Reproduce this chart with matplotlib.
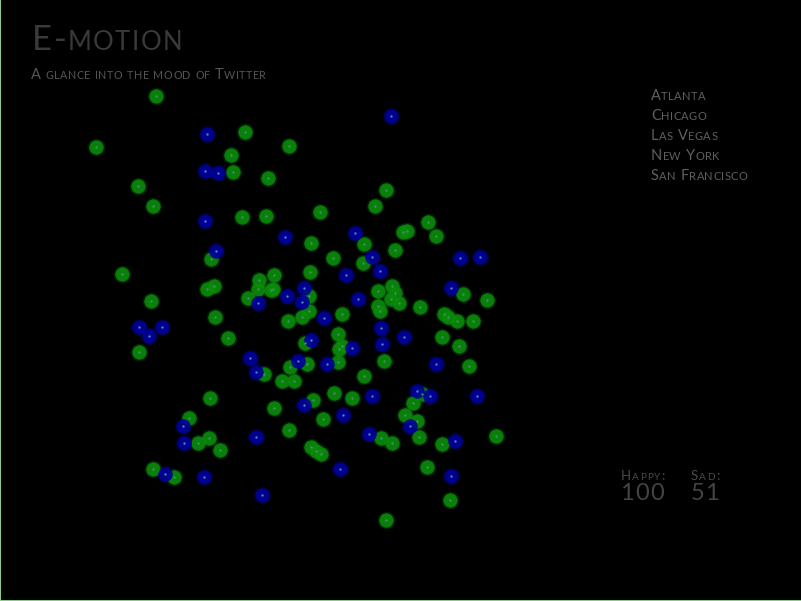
import matplotlib
matplotlib.use("Agg")
import matplotlib.pyplot as plt

# tweet positions (pixel coords, y down)
happy_x = [156, 245, 96, 289, 231, 233, 268, 138, 153, 242, 266, 211, 386, 375, 320, 428, 407, 403, 436, 311,
           364, 395, 333, 363, 122, 259, 274, 207, 214, 258, 271, 273, 248, 151, 215, 288, 228, 139, 290, 264,
           282, 294, 210, 310, 463, 487, 309, 378, 392, 395, 391, 399, 420, 378, 380, 309, 302, 342, 444, 448,
           457, 473, 442, 338, 305, 339, 342, 459, 384, 307, 338, 469, 364, 422, 334, 352, 313, 274, 189, 198,
           209, 220, 289, 311, 316, 321, 153, 174, 323, 413, 405, 417, 381, 392, 419, 442, 496, 427, 450, 386]
happy_y = [96, 132, 147, 146, 155, 172, 178, 186, 206, 217, 216, 259, 190, 206, 212, 222, 231, 232, 236, 243,
           244, 250, 258, 263, 274, 280, 275, 289, 286, 289, 290, 289, 298, 301, 317, 321, 338, 352, 367, 374,
           381, 381, 398, 272, 294, 300, 296, 291, 286, 293, 299, 303, 307, 306, 311, 311, 317, 314, 314, 317,
           321, 321, 337, 334, 343, 349, 346, 346, 361, 364, 362, 366, 376, 394, 393, 398, 400, 408, 418, 443,
           438, 450, 430, 447, 451, 454, 469, 477, 419, 403, 415, 421, 438, 443, 437, 444, 436, 467, 500, 520]

sad_x = [207, 391, 205, 218, 205, 285, 216, 355, 372, 460, 480, 380, 346, 451, 304, 287, 302, 258, 358, 324,
         381, 404, 311, 352, 382, 139, 162, 149, 250, 298, 256, 327, 436, 417, 430, 372, 477, 304, 343, 410,
         369, 455, 183, 184, 256, 165, 204, 262, 340, 451]
sad_y = [134, 116, 171, 173, 221, 237, 251, 233, 257, 258, 257, 271, 275, 288, 288, 296, 302, 303, 299, 318,
         328, 337, 340, 348, 344, 327, 327, 336, 358, 361, 372, 364, 364, 391, 396, 396, 396, 405, 415, 426,
         434, 441, 426, 443, 437, 474, 477, 495, 469, 476]

cities = ["Atlanta", "Chicago", "Las Vegas", "New York", "San Francisco"]
happy_count = 100
sad_count = 51

W, H = 801, 601
fig = plt.figure(figsize=(W / 100, H / 100), dpi=100, facecolor="black")
ax = fig.add_axes([0, 0, 1, 1])
ax.set_facecolor("black")
ax.set_xlim(0, W)
ax.set_ylim(H, 0)
ax.set_xticks([])
ax.set_yticks([])
for side in ["top", "right"]:
    ax.spines[side].set_visible(False)
for side in ["left", "bottom"]:
    ax.spines[side].set_color("#8fd08f")
    ax.spines[side].set_linewidth(1.4)


def dots(xs, ys, main, glow, center):
    ax.scatter(xs, ys, s=160, color=glow, alpha=0.25, linewidths=0, zorder=2)
    ax.scatter(xs, ys, s=95, color=main, alpha=0.9, edgecolors=glow, linewidths=0.6, zorder=3)
    ax.scatter(xs, ys, s=3, color=center, linewidths=0, zorder=4)


dots(happy_x, happy_y, "#0a8c0a", "#0b7a0b", "#3f8f6a")
dots(sad_x, sad_y, "#00009c", "#00008a", "#4f7fd0")

fig.canvas.draw()
renderer = fig.canvas.get_renderer()
FONT = "Lato"


def small_caps(x, y, s, size, color, ratio=0.76, track=1.0, space=0.3):
    # no small-caps variant in matplotlib, so fake it char by char
    for ch in s:
        if ch == " ":
            x += size * space * 100 / 72 + track
            continue
        big = not ch.islower()
        t = ax.text(x, y, ch.upper(), fontsize=size if big else size * ratio,
                    color=color, family=FONT, va="baseline", ha="left")
        x += t.get_window_extent(renderer).width + track


small_caps(32, 50, "E-motion", 25, "#3a3a3a", ratio=0.74, track=1.4)
small_caps(31, 79, "A glance into the mood of Twitter", 10.5, "#555555", ratio=0.74, track=0.5, space=0.25)

for i, c in enumerate(cities):
    small_caps(651, 100 + 20 * i, c, 10.5, "#5f5f5f", track=0.35)

small_caps(621, 480, "Happy:", 9.5, "#4a4a4a", track=1.2)
small_caps(691, 480, "Sad:", 9.5, "#4a4a4a", track=1.2)
small_caps(620, 500, str(happy_count), 17, "#444444", track=1.5)
small_caps(691, 500, str(sad_count), 17, "#444444", track=0.0)

fig.savefig("out.png", dpi=100, facecolor="black")
